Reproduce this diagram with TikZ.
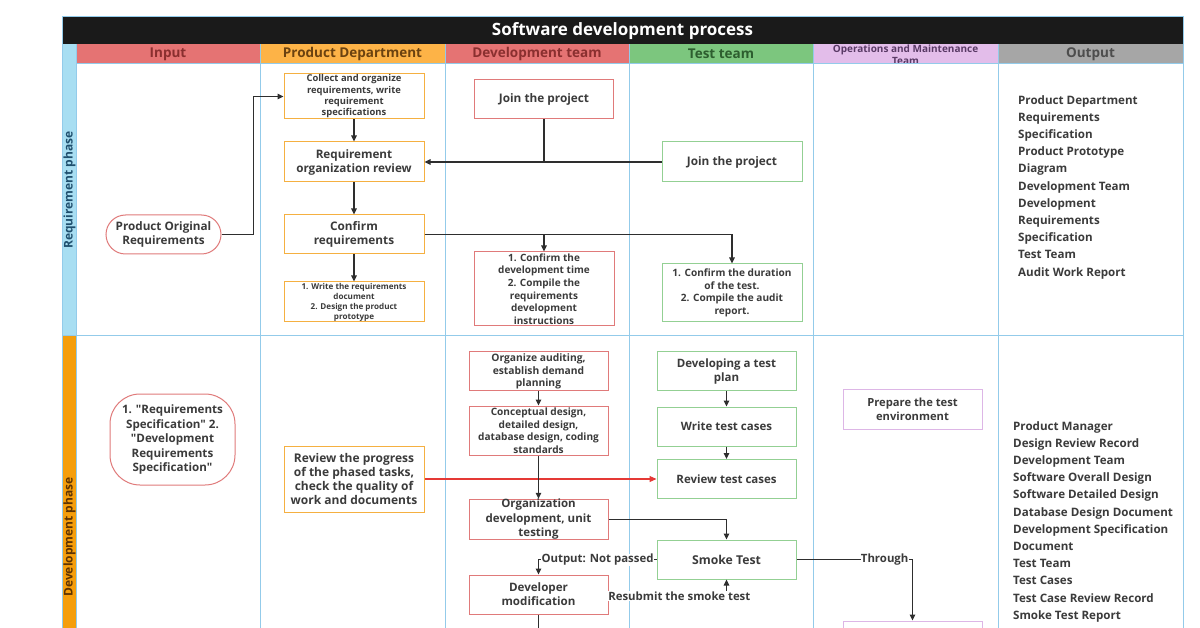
\documentclass[tikz,border=0pt]{standalone}
\usepackage{fontspec}
\setmainfont{Open Sans}[Ligatures=TeXOff]
\usetikzlibrary{arrows.meta}
\definecolor{titlebg}{HTML}{1A1A1A}
\definecolor{gridc}{HTML}{93CBEA}
\definecolor{inhd}{HTML}{E57373}\definecolor{intx}{HTML}{8A2F2F}
\definecolor{pdhd}{HTML}{FDB347}\definecolor{pdtx}{HTML}{6B4210}
\definecolor{tshd}{HTML}{7CC67E}\definecolor{tstx}{HTML}{2D5E2F}
\definecolor{ophd}{HTML}{E3BDEA}\definecolor{optx}{HTML}{5A3A66}
\definecolor{othd}{HTML}{A6A6A6}\definecolor{ottx}{HTML}{4D4D4D}
\definecolor{reqs}{HTML}{A8DEF2}\definecolor{reqtx}{HTML}{1F4F6E}
\definecolor{devs}{HTML}{F59E0C}\definecolor{devtx}{HTML}{5E3300}
\definecolor{ocol}{HTML}{F5B041}\definecolor{rcol}{HTML}{E07A7A}
\definecolor{gcol}{HTML}{93D093}\definecolor{pcol}{HTML}{DDB6E6}
\definecolor{txt}{HTML}{3B3B3B}\definecolor{cl}{HTML}{2E2E2E}
\definecolor{redl}{HTML}{E53935}
\tikzset{
  fnt/.style 2 args={font=\bfseries\fontsize{#1}{#2}\selectfont},
  box/.style={draw, line width=1pt, fill=white, minimum width=140pt, minimum height=39pt, inner sep=0pt, align=center, text=txt},
  obox/.style={box, draw=ocol},
  rbox/.style={box, draw=rcol, minimum width=139pt},
  gbox/.style={box, draw=gcol},
  pbox/.style={box, draw=pcol},
  stadium/.style={draw=rcol, line width=1pt, fill=white, align=center, text=txt, inner sep=0pt},
  conn/.style={draw=cl, line width=1.1pt, -{Triangle[length=6pt,width=5.5pt]}},
  plain/.style={draw=cl, line width=1.1pt},
  redarrow/.style={draw=redl, line width=1.1pt, -{Triangle[length=7pt,width=6pt]}},
  lbl/.style={fill=white, inner sep=0.3pt, text=txt, fnt={11.4}{13}},
  hdtxt/.style={fnt={13.5}{16}},
  outtxt/.style={align=left, inner sep=0pt, text=txt, fnt={11.6}{17.2}},
  gridline/.style={draw=gridc, line width=1pt},
}
\begin{document}
\begin{tikzpicture}[x=1pt,y=-1pt]
\useasboundingbox (0,0) rectangle (1200,628);
\clip (0,0) rectangle (1200,628);
\fill[white] (0,0) rectangle (1200,628);
% title
\fill[titlebg] (62,17) rectangle (1183,44);
\node[fnt={17}{20}, text=white] (title) at (622.5,31) {Software development process};
% headers
\fill[inhd] (76,44) rectangle (260,64);
\fill[pdhd] (260,44) rectangle (445,64);
\fill[inhd] (445,44) rectangle (629,64);
\fill[tshd] (629,44) rectangle (813,64);
\fill[ophd] (813,44) rectangle (998,64);
\fill[othd] (998,44) rectangle (1183,64);
\node[hdtxt, text=intx] (hin) at (168,54) {Input};
\node[hdtxt, text=pdtx] (hpd) at (352.5,54) {Product Department};
\node[hdtxt, text=intx] (hdv) at (537,54) {Development team};
\node[hdtxt, text=tstx] (hts) at (721,54) {Test team};
\node[fnt={10}{12}, text=optx, align=center] (hop) at (905.5,55) {Operations and Maintenance\\Team};
\node[hdtxt, text=ottx] (hout) at (1090.5,54) {Output};
% body
\fill[white] (76,64) rectangle (1183,640);
\fill[reqs] (62,44) rectangle (76,336);
\fill[devs] (62,336) rectangle (76,640);
\node[rotate=90, fnt={12}{14}, text=reqtx] (phreq) at (69.5,190) {Requirement phase};
\node[rotate=90, fnt={12}{14}, text=devtx] (phdev) at (69.5,537) {Development phase};
% grid
\draw[gridline] (62,17) rectangle (1183,700);
\draw[gridline] (76,44) -- (76,640);
\foreach \gx in {260,445,629,813,998} \draw[gridline] (\gx,44) -- (\gx,640);
\draw[gridline] (76,64) -- (1183,64);
\draw[gridline] (62,336) -- (1183,336);
% requirement phase nodes
\node[obox, fnt={9.4}{11.3}, minimum height=45pt] (collect) at (354,96.5) {Collect and organize\\requirements, write\\requirement\\specifications};
\node[obox, fnt={11.7}{14}, minimum height=40pt] (review) at (354,162) {Requirement\\organization review};
\node[obox, fnt={11.8}{14.5}] (confirm) at (354,234.5) {Confirm\\requirements};
\node[obox, fnt={8.1}{10}, minimum height=40pt] (writereq) at (354,302) {1. Write the requirements\\document\\2. Design the product\\prototype};
\node[stadium, fnt={11.7}{14.5}, rounded corners=19.5pt, minimum width=115pt, minimum height=39pt] (por) at (163.5,234.5) {Product Original\\Requirements};
\node[rbox, fnt={11.8}{14}] (djoin) at (544,99.5) {Join the project};
\node[gbox, fnt={11.8}{14}, minimum height=40pt] (tjoin) at (732,162) {Join the project};
\node[rbox, fnt={10}{12.6}, minimum width=140pt, minimum height=74pt] (dconf) at (544,289) {1. Confirm the\\development time\\2. Compile the\\requirements\\development\\instructions};
\node[gbox, fnt={10.1}{12.5}, minimum height=58pt] (tconf) at (732,293) {1. Confirm the duration\\of the test.\\2. Compile the audit\\report.};
% requirement phase output
\node[outtxt, anchor=north west] (out1) at (1018,95) {Product Department\\Requirements\\Specification\\Product Prototype\\Diagram\\Development Team\\Development\\Requirements\\Specification\\Test Team\\Audit Work Report};
% requirement phase connectors
\draw[conn] (por.east) -- ++(32,0) |- (collect.west);
\draw[conn] (collect) -- (review);
\draw[conn] (review) -- (confirm);
\draw[conn] (confirm) -- (writereq);
\draw[plain] (djoin.south) -- (djoin.south |- review.east);
\draw[conn] (tjoin.west) -- (review.east);
\draw[conn] (confirm.east) -| (tconf.north);
\draw[conn] (confirm.east -| dconf.north) -- (dconf.north);
% development phase nodes
\node[stadium, fnt={11.6}{14.5}, rounded corners=30pt, minimum width=125pt, minimum height=91pt] (din) at (172.5,439.5) {1. "Requirements\\Specification" 2.\\"Development\\Requirements\\Specification"};
\node[obox, fnt={12}{14}, minimum height=66pt] (rprog) at (354,479) {Review the progress\\of the phased tasks,\\check the quality of\\work and documents};
\node[rbox, fnt={10.3}{12.5}] (oaud) at (538.5,371.5) {Organize auditing,\\establish demand\\planning};
\node[rbox, fnt={10.1}{12.5}, minimum height=49pt] (concept) at (538.5,430.5) {Conceptual design,\\detailed design,\\database design, coding\\standards};
\node[rbox, fnt={11.5}{14.5}] (orgdev) at (538.5,519.5) {Organization\\development, unit\\testing};
\node[rbox, fnt={11.6}{14}] (devmod) at (538.5,594.5) {Developer\\modification};
\node[gbox, fnt={11.5}{14}, minimum width=139pt] (tplan) at (726.5,371.5) {Developing a test\\plan};
\node[gbox, fnt={11.5}{14}, minimum width=139pt] (wtc) at (726.5,426.5) {Write test cases};
\node[gbox, fnt={11.5}{14}, minimum width=139pt] (rtc) at (726.5,479) {Review test cases};
\node[gbox, fnt={12.2}{14}, minimum width=139pt] (smoke) at (726.5,559.5) {Smoke Test};
\node[pbox, fnt={11.2}{14}, minimum width=139pt] (penv) at (912.5,409.5) {Prepare the test\\environment};
\node[pbox, minimum width=139pt] (pbot) at (912.5,640.5) {};
% development phase output
\node[outtxt, anchor=north west] (out2) at (1013,421) {Product Manager\\Design Review Record\\Development Team\\Software Overall Design\\Software Detailed Design\\Database Design Document\\Development Specification\\Document\\Test Team\\Test Cases\\Test Case Review Record\\Smoke Test Report};
% development phase connectors
\draw[conn] (oaud) -- (concept);
\draw[redarrow] (rprog.east) -- (rtc.west);
\draw[conn] (concept) -- (orgdev);
\draw[conn] (tplan) -- (wtc);
\draw[conn] (wtc) -- (rtc);
\draw[conn] (orgdev.east) -| (smoke.north);
\draw[conn] (smoke.west) -| node[lbl, pos=0.25] (lnp) {Output: Not passed} (devmod.north);
\draw[conn] (devmod.east) -| node[lbl, pos=0.3, yshift=-1.5pt] (lrs) {Resubmit the smoke test} (smoke.south);
\draw[conn] (smoke.east) -| node[lbl, pos=0.38] (lth) {Through} (pbot.north);
\coordinate (dvout) at (538.5,660);
\draw[conn] (devmod.south) -- (dvout);
\end{tikzpicture}
\end{document}
